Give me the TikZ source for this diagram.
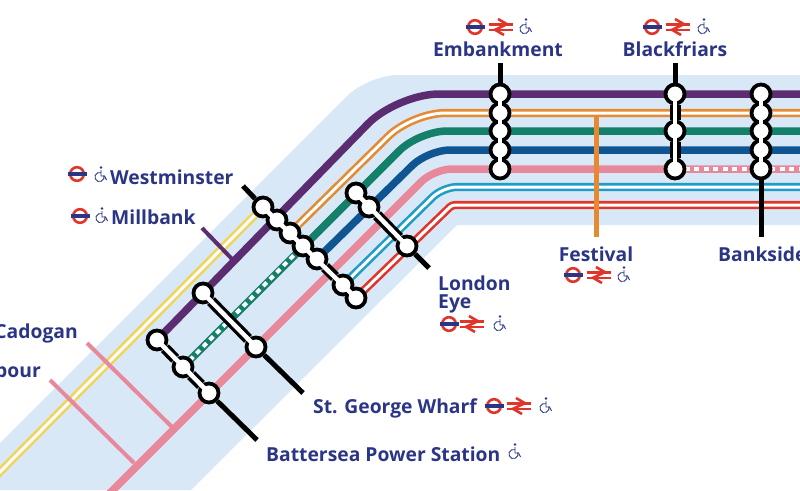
\documentclass[tikz,border=0pt]{standalone}
\usepackage{fontspec}
\setmainfont{Open Sans}
\usetikzlibrary{backgrounds}
\definecolor{bandblue}{RGB}{217,232,246}
\definecolor{txtblue}{RGB}{43,53,134}
\definecolor{purpleln}{RGB}{91,44,111}
\definecolor{orangeln}{RGB}{229,138,48}
\definecolor{greenln}{RGB}{21,128,106}
\definecolor{blueln}{RGB}{15,85,146}
\definecolor{pinkln}{RGB}{232,137,155}
\definecolor{cyanln}{RGB}{30,157,201}
\definecolor{redln}{RGB}{224,53,43}
\definecolor{yellowln}{RGB}{242,212,92}
\tikzset{
  stn/.style={circle,draw=black,fill=white,line width=3.8pt,minimum size=19pt,inner sep=0pt},
  stem/.style={draw=black,line width=5pt},
  bar/.style={draw=black,line width=11pt},
  gap/.style={draw=white,line width=4.5pt},
  thick line/.style={line width=7.5pt},
  twin line/.style={line width=2.6pt,double=white,double distance=3pt},
  hatch/.style={draw=white,line width=4pt,dash pattern=on 5pt off 4.5pt},
  lbl/.style={font=\fontsize{19.3}{21}\selectfont\bfseries,text=txtblue,inner sep=0pt},
  roundel/.pic={
    \draw[redln,line width=2.6pt] (0,0) circle (6.8);
    \draw[txtblue,line width=3.2pt] (-9.5,0) -- (9.5,0);
  },
  rail/.pic={
    \draw[redln,line width=2.6pt] (-12,-2.8) -- (12,-2.8);
    \draw[redln,line width=2.6pt] (-12,2.8) -- (12,2.8);
    \draw[redln,line width=2.6pt] (-3,-8) -- (6,-2.8) -- (-6,2.8) -- (3,8);
  },
  chair/.pic={
    \fill[txtblue] (1,-7.5) circle (1.3);
    \draw[txtblue,line width=.9pt] (1.07,-2.32) arc[start angle=70,end angle=380,radius=4.6pt];
    \draw[txtblue,line width=.9pt] (1,-5) -- (1,1) -- (4.5,1) -- (6.5,5);
  }
}
\begin{document}
\begin{tikzpicture}[x=1pt,y=-1pt]
  \useasboundingbox (0,0) rectangle (800,490);
  \clip (0,0) rectangle (800,490);
  % interchanges
  \node[stn] (emA) at (500,94) {};
  \node[stn] (emB) at (500,113) {};
  \node[stn] (emC) at (500,131) {};
  \node[stn] (emD) at (500,150) {};
  \node[stn] (emE) at (500,169) {};
  \node[stn] (bfA) at (675,94) {};
  \node[stn] (bfB) at (675,131) {};
  \node[stn] (bfC) at (675,169) {};
  \node[stn] (bkA) at (761,94) {};
  \node[stn] (bkB) at (761,113) {};
  \node[stn] (bkC) at (761,131) {};
  \node[stn] (bkD) at (761,150) {};
  \node[stn] (bkE) at (761,169) {};
  \node[stn] (wmA) at (263,207) {};
  \node[stn] (wmB) at (277,220) {};
  \node[stn] (wmC) at (290,233) {};
  \node[stn] (wmD) at (303,246) {};
  \node[stn] (wmE) at (317,259) {};
  \node[stn] (wmF) at (343,285) {};
  \node[stn] (wmG) at (356,298) {};
  \node[stn] (leA) at (356,193) {};
  \node[stn] (leB) at (369,207) {};
  \node[stn] (leC) at (407,246) {};
  \node[stn] (sgA) at (203,293) {};
  \node[stn] (sgB) at (256,347) {};
  \node[stn] (bsA) at (157,340) {};
  \node[stn] (bsB) at (183,367) {};
  \node[stn] (bsC) at (209,393) {};
  % free ends
  \coordinate (emTop) at (500,63);
  \coordinate (bfTop) at (675,63);
  \coordinate (bkEnd) at (761,237);
  \coordinate (wmEnd) at (243,186);
  \coordinate (leEnd) at (429,268);
  \coordinate (sgEnd) at (303,393);
  \coordinate (bsEnd) at (257,440);
  \coordinate (fvTop) at (596,116);
  \coordinate (fvEnd) at (596,237);
  % stems and bars
  \draw[stem] (emTop) -- (emA);
  \draw[stem] (bfTop) -- (bfA);
  \draw[stem] (bkE) -- (bkEnd);
  \draw[stem] (wmEnd) -- (wmA);
  \draw[stem] (leC) -- (leEnd);
  \draw[stem] (sgB) -- (sgEnd);
  \draw[stem] (bsC) -- (bsEnd);
  \draw[bar] (bfA) -- (bfB);
  \draw[bar] (bfB) -- (bfC);
  \draw[bar] (wmE) -- (wmF);
  \draw[bar] (leB) -- (leC);
  \draw[bar] (sgA) -- (sgB);
  \draw[bar] (bsA) -- (bsB);
  \draw[bar] (bsB) -- (bsC);
  \draw[gap] (emA.center) -- (emE.center);
  \draw[gap] (bfA.center) -- (bfC.center);
  \draw[gap] (bkA.center) -- (bkE.center);
  \draw[gap] (wmA.center) -- (wmG.center);
  \draw[gap] (leA.center) -- (leC.center);
  \draw[gap] (sgA.center) -- (sgB.center);
  \draw[gap] (bsA.center) -- (bsC.center);
  % lines under the interchanges
  \begin{scope}[on background layer]
    \fill[bandblue] (0,443) [rounded corners=30pt] -- (368,75) [sharp corners] -- (810,75) -- (810,225) -- (457,225) -- (191,490) -- (0,490) -- cycle;
    \draw[yellowln,twin line] (-10,482) -- (wmA.center);
    \draw[purpleln,line width=4pt] (202,228) -- (233,260);
    \draw[pinkln,line width=4pt] (87,343) -- (172,427);
    \draw[pinkln,line width=4pt] (50,380) -- (134,463);
    \draw[purpleln,thick line,rounded corners=42pt] (bsA.center) -- (397,94) -- (800,94);
    \draw[orangeln,twin line,rounded corners=33pt] (wmC.center) -- (412,113) -- (800,113);
    \draw[greenln,thick line,rounded corners=28pt] (bsB.center) -- (419,131) -- (800,131);
    \draw[hatch] (bsB.center) -- (wmD.center);
    \draw[blueln,thick line,rounded corners=22pt] (wmE.center) -- (428,150) -- (800,150);
    \draw[pinkln,thick line,rounded corners=18pt] (100,503) -- (434,169) -- (800,169);
    \draw[hatch] (bfC.center) -- (800,169);
    \draw[cyanln,twin line,rounded corners=14pt] (wmF.center) -- (443,187) -- (800,187);
    \draw[redln,twin line,rounded corners=3pt] (wmG.center) -- (452,205) -- (800,205);
    \draw[orangeln,line width=5pt] (fvTop) -- (fvEnd);
  \end{scope}
  % names
  \node[lbl] (lblEm) at (498,49.5) {Embankment};
  \node[lbl] (lblBf) at (675,49.5) {Blackfriars};
  \node[lbl] (lblFv) at (596,254) {Festival};
  \node[lbl,anchor=west] (lblBk) at (718,254) {Bankside};
  \node[lbl,anchor=west] (lblLn) at (438,283) {London};
  \node[lbl,anchor=west] (lblEy) at (438,304) {Eye};
  \node[lbl,anchor=west] (lblSg) at (313,408) {St. George Wharf};
  \node[lbl,anchor=west] (lblBs) at (266,454) {Battersea Power Station};
  \node[lbl,anchor=west] (lblWm) at (110,177) {Westminster};
  \node[lbl,anchor=west] (lblMb) at (111,217) {Millbank};
  \node[lbl,anchor=east] (lblCd) at (78,333) {Cadogan};
  \node[lbl,anchor=east] (lblHb) at (41,370) {bour};
  % symbols
  \pic at (475,27) {roundel};
  \pic at (501,27) {rail};
  \pic at (525,27) {chair};
  \pic at (652,27) {roundel};
  \pic at (678,27) {rail};
  \pic at (703,27) {chair};
  \pic at (573,275) {roundel};
  \pic at (599,275) {rail};
  \pic at (623,275) {chair};
  \pic at (449,324) {roundel};
  \pic at (472,324) {rail};
  \pic at (499,324) {chair};
  \pic at (494,406) {roundel};
  \pic at (519,406) {rail};
  \pic at (545,406) {chair};
  \pic at (514,452) {chair};
  \pic at (77,174) {roundel};
  \pic at (100,175) {chair};
  \pic at (80,216) {roundel};
  \pic at (101,216) {chair};
\end{tikzpicture}
\end{document}
